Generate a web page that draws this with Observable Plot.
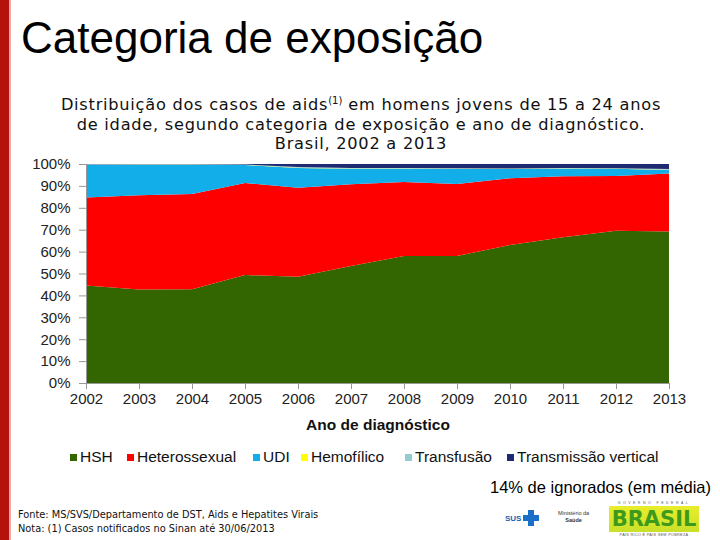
<!DOCTYPE html>
<html>
<head>
<meta charset="utf-8">
<script src="https://cdn.jsdelivr.net/npm/d3@7"></script>
<script src="https://cdn.jsdelivr.net/npm/@observablehq/plot@0.6"></script>
<style>
  html, body { margin: 0; padding: 0; background: #fff; }
  #page { position: relative; width: 720px; height: 540px; overflow: hidden; background: #fff; font-family: "Liberation Sans", Arial, sans-serif; }
  #bar { position: absolute; left: 0; top: 0; width: 9px; height: 540px; background: #b5120c; border-right: 2px solid #e9a9a6; }
  #title { position: absolute; left: 21px; top: 13px; font-size: 44px; color: #000; white-space: nowrap; }
  #subtitle { position: absolute; left: 0; width: 722px; top: 95px; text-align: center; font-family: "DejaVu Sans", sans-serif; font-size: 16.2px; letter-spacing: 0.75px; line-height: 19.5px; color: #111; }
  #subtitle sup { font-size: 10px; vertical-align: 6px; line-height: 0; letter-spacing: 0; }
  #chart { position: absolute; left: 0; top: 150px; }
  .leg { position: absolute; top: 448px; font-size: 15.5px; color: #111; white-space: nowrap; display: flex; align-items: center; }
  .leg i { display: inline-block; width: 7px; height: 7px; margin-right: 3px; }
  #ign { position: absolute; left: 490px; top: 478px; font-size: 16.5px; color: #000; white-space: nowrap; }
  #foot { position: absolute; left: 18px; top: 508px; font-family: "Liberation Sans Narrow", "DejaVu Sans Condensed", sans-serif; font-size: 10.9px; line-height: 14px; color: #111; white-space: nowrap; }
  #sus { position: absolute; left: 505px; top: 510px; font-weight: bold; font-size: 8px; color: #1a5fb4; display: flex; align-items: center; }
  #sus .cross { position: relative; width: 16px; height: 16px; margin-left: 2px; }
  #sus .cross span { position: absolute; background: #1a6fc9; }
  #ms { position: absolute; left: 558px; top: 510px; font-size: 5.5px; line-height: 7px; color: #333; text-align: center; }
  #brasil { position: absolute; left: 609px; top: 501px; width: 90px; text-align: center; }
  #brasil .top { font-size: 3.5px; letter-spacing: 2.5px; color: #555; line-height: 5px; height: 5px; }
  #brasil .big { font-family: "DejaVu Sans", sans-serif; font-weight: bold; font-size: 21px; line-height: 26px; height: 26px; color: #3d9a1d; background: linear-gradient(#e8ee2a, #c9e02a); letter-spacing: 0px; }
  #brasil .bot { font-size: 3.8px; color: #555; line-height: 6px; height: 6px; letter-spacing: 0.3px; }
</style>
</head>
<body>
<div id="page">
  <div id="bar"></div>
  <div id="title">Categoria de exposição</div>
  <div id="subtitle">Distribuição dos casos de aids<sup>(1)</sup> em homens jovens de 15 a 24 anos<br>de idade, segundo categoria de exposição e ano de diagnóstico.<br>Brasil, 2002 a 2013</div>
  <div id="chart"></div>
  <div id="ign">14% de ignorados (em média)</div>
  <div id="foot">Fonte: MS/SVS/Departamento de DST, Aids e Hepatites Virais<br>Nota: (1) Casos notificados no Sinan até 30/06/2013</div>
  <div id="sus">SUS<div class="cross"><span style="left:5px;top:0;width:6px;height:16px"></span><span style="left:0;top:5px;width:16px;height:6px"></span></div></div>
  <div id="ms">Ministério da<br><b>Saúde</b></div>
  <div id="brasil"><div class="top">GOVERNO FEDERAL</div><div class="big">BRASIL</div><div class="bot">PAÍS RICO É PAÍS SEM POBREZA</div></div>
</div>
<script>
// ---- data (percent of cases per year) ----
const years = [2002, 2003, 2004, 2005, 2006, 2007, 2008, 2009, 2010, 2011, 2012, 2013];
const categories = ["HSH", "Heterossexual", "UDI", "Hemofílico", "Transfusão", "Transmissão vertical"];
const hsh           = [44.5, 42.7, 42.8, 49.3, 48.5, 53.4, 58.0, 58.0, 63.0, 66.5, 69.5, 69.2];
const heterossexual = [40.2, 43.0, 43.5, 42.0, 40.7, 37.3, 33.8, 32.9, 30.5, 27.9, 25.0, 26.5];
const udi           = [14.8, 13.9, 13.3,  8.2,  9.0,  7.1,  6.0,  6.8,  4.2,  3.4,  3.3,  1.6];
const hemofilico    = [ 0.1,  0.1,  0.1,  0.1,  0.1,  0.1,  0.1,  0.1,  0.1,  0.1,  0.1,  0.1];
const transfusao    = [ 0.3,  0.2,  0.2,  0.2,  0.3,  0.3,  0.3,  0.3,  0.2,  0.3,  0.2,  0.3];
const transVertical = [ 0.1,  0.1,  0.1,  0.2,  1.4,  1.8,  1.8,  1.9,  2.0,  1.8,  1.9,  2.3];
const yTicks = [0, 10, 20, 30, 40, 50, 60, 70, 80, 90, 100];
const colors = ["#336600", "#ff0000", "#12aee9", "#ffff00", "#93cdd1", "#1f2a72"];

const series = [hsh, heterossexual, udi, hemofilico, transfusao, transVertical];
const data = years.flatMap((yr, i) => categories.map((c, j) => ({year: yr, cat: c, value: series[j][i]})));

const chart = Plot.plot({
  width: 720,
  height: 292,
  marginLeft: 86,
  marginRight: 51,
  marginTop: 14,
  marginBottom: 59,
  style: {fontFamily: "'Liberation Sans', Arial, sans-serif", fontSize: "15px", color: "#222", background: "transparent"},
  x: {domain: [2002, 2013], label: null},
  y: {domain: [0, 1], label: null},
  color: {domain: categories, range: colors},
  marks: [
    Plot.areaY(data, Plot.stackY({x: "year", y: "value", z: "cat", fill: "cat", order: categories, offset: "normalize"})),
    Plot.axisY({ticks: yTicks.map(d => d / 100), tickFormat: d => Math.round(d * 100) + "%", tickSize: 7, tickPadding: 9, stroke: "#999", label: null}),
    Plot.axisX({ticks: years, tickFormat: d => String(d), tickSize: 6, tickPadding: 4, stroke: "#999", label: "Ano de diagnóstico", labelAnchor: "center", labelArrow: "none", labelOffset: 46}),
    Plot.ruleX([2002], {stroke: "#999"}),
    Plot.ruleY([0], {stroke: "#999"})
  ]
});
chart.querySelectorAll('[aria-label="x-axis label"] text, [aria-label="x-axis label"]').forEach(el => { el.setAttribute("font-weight", "bold"); });
chart.querySelectorAll('[aria-label="x-axis label"] text').forEach(el => { el.setAttribute("fill", "#111"); el.setAttribute("font-size", "15.5px"); });
document.getElementById("chart").appendChild(chart);

// legend (HTML, from the same arrays)
const legX = [70, 127, 253, 301, 405, 507];
const page = document.getElementById("page");
categories.forEach((c, j) => {
  const d = document.createElement("div");
  d.className = "leg";
  d.style.left = legX[j] + "px";
  d.innerHTML = `<i style="background:${colors[j]}"></i>${c}`;
  page.appendChild(d);
});
</script>
</body>
</html>
